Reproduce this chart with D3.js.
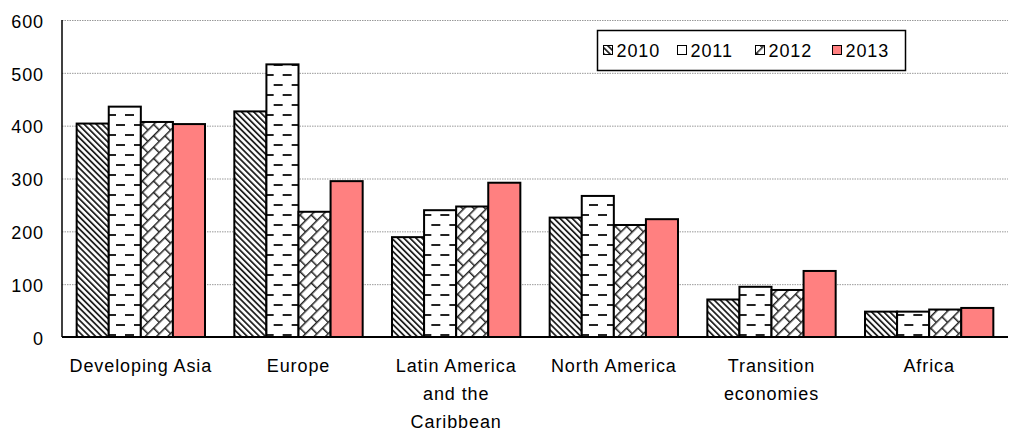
<!DOCTYPE html>
<html>
<head>
<meta charset="utf-8">
<script src="https://cdn.jsdelivr.net/npm/d3@7"></script>
<style>
  html, body { margin: 0; padding: 0; background: #fff; }
  svg { display: block; }
  text { font-family: "Liberation Sans", Arial, sans-serif; font-size: 18px; letter-spacing: 0.9px; fill: #000; }
</style>
</head>
<body>
<svg id="chart" width="1010" height="432"></svg>
<script>
// Regions (multi-line labels split into lines)
const categories = ["Developing Asia", "Europe", "Latin America and the Caribbean", "North America", "Transition economies", "Africa"];
const categoryLines = [["Developing Asia"], ["Europe"], ["Latin America", "and the", "Caribbean"], ["North America"], ["Transition", "economies"], ["Africa"]];
const years = ["2010", "2011", "2012", "2013"];
const values2010 = [404, 427, 189, 226, 71, 48];
const values2011 = [436, 516, 240, 267, 95, 48];
const values2012 = [407, 237, 247, 212, 89, 52];
const values2013 = [403, 295, 292, 223, 125, 55];
const yTicks = [0, 100, 200, 300, 400, 500, 600];

const seriesValues = [values2010, values2011, values2012, values2013];

const svg = d3.select("#chart");
const plot = { left: 62, right: 1008, top: 20, bottom: 337 };

// Fill patterns for each year
const defs = svg.append("defs");

const p0 = defs.append("pattern").attr("id", "fill2010")
  .attr("patternUnits", "userSpaceOnUse").attr("width", 4.3).attr("height", 10)
  .attr("patternTransform", "rotate(-45)");
p0.append("rect").attr("width", 4.3).attr("height", 10).attr("fill", "#fff");
p0.append("rect").attr("x", 0).attr("width", 1.8).attr("height", 10).attr("fill", "#222");

const p1 = defs.append("pattern").attr("id", "fill2011")
  .attr("patternUnits", "userSpaceOnUse").attr("width", 18).attr("height", 20);
p1.append("rect").attr("width", 18).attr("height", 20).attr("fill", "#fff");
p1.append("rect").attr("x", 0).attr("y", 4).attr("width", 9).attr("height", 2).attr("fill", "#222");
p1.append("rect").attr("x", 9).attr("y", 14).attr("width", 9).attr("height", 2).attr("fill", "#222");

const p2 = defs.append("pattern").attr("id", "fill2012")
  .attr("patternUnits", "userSpaceOnUse").attr("width", 16).attr("height", 16)
  .attr("patternTransform", "rotate(-45)");
p2.append("rect").attr("width", 16).attr("height", 16).attr("fill", "#fff");
p2.append("rect").attr("x", 0).attr("y", 0).attr("width", 16).attr("height", 1.5).attr("fill", "#222");
p2.append("rect").attr("x", 0).attr("y", 8).attr("width", 16).attr("height", 1.5).attr("fill", "#222");
p2.append("rect").attr("x", 0).attr("y", 0).attr("width", 1.5).attr("height", 8).attr("fill", "#222");
p2.append("rect").attr("x", 8).attr("y", 8).attr("width", 1.5).attr("height", 8).attr("fill", "#222");

const fills = ["url(#fill2010)", "url(#fill2011)", "url(#fill2012)", "#FF8080"];

// Scales
const y = d3.scaleLinear().domain([0, 600]).range([plot.bottom, plot.top]);
const x0 = d3.scaleBand().domain(categories).range([plot.left, plot.right]).padding(0);
const inset = x0.bandwidth() * 0.093;
const x1 = d3.scaleBand().domain(years).range([inset, x0.bandwidth() - inset]).padding(0);

// Dotted gridlines
svg.append("g").selectAll("line").data(yTicks.filter(d => d > 0)).join("line")
  .attr("x1", plot.left).attr("x2", plot.right)
  .attr("y1", d => y(d) + 0.5).attr("y2", d => y(d) + 0.5)
  .attr("stroke", "#999").attr("stroke-width", 1).attr("stroke-dasharray", "1.5,1");

// Y axis labels
const yAxis = d3.axisLeft(y).tickValues(yTicks).tickSize(0).tickPadding(18);
const gy = svg.append("g").attr("transform", `translate(${plot.left},0)`).call(yAxis);
gy.select(".domain").remove();
gy.selectAll("text").attr("font-size", null).attr("font-family", null).attr("dy", "0.4em");

// Bars
const groups = svg.append("g").selectAll("g").data(categories).join("g")
  .attr("transform", d => `translate(${x0(d)},0)`);
groups.selectAll("rect")
  .data((c, i) => years.map((yr, k) => ({ yr, k, v: seriesValues[k][i] })))
  .join("rect")
  .attr("x", d => x1(d.yr))
  .attr("y", d => y(d.v))
  .attr("width", x1.bandwidth())
  .attr("height", d => y(0) - y(d.v))
  .attr("fill", d => fills[d.k])
  .attr("stroke", "#000").attr("stroke-width", 2);

// Axis lines
svg.append("line").attr("x1", plot.left).attr("x2", plot.left)
  .attr("y1", plot.top).attr("y2", plot.bottom)
  .attr("stroke", "#000").attr("stroke-width", 1.5);
svg.append("line").attr("x1", plot.left).attr("x2", plot.right)
  .attr("y1", plot.bottom).attr("y2", plot.bottom)
  .attr("stroke", "#000").attr("stroke-width", 2);

// Category labels
const labels = svg.append("g").selectAll("text").data(categories).join("text")
  .attr("text-anchor", "middle")
  .attr("transform", d => `translate(${x0(d) + x0.bandwidth() / 2},372)`);
labels.selectAll("tspan").data((d, i) => categoryLines[i]).join("tspan")
  .attr("x", 0).attr("y", (d, j) => j * 28).text(d => d);

// Legend
const legend = svg.append("g").attr("transform", "translate(597.5,30.5)");
legend.append("rect").attr("width", 308).attr("height", 40)
  .attr("fill", "#fff").attr("stroke", "#000").attr("stroke-width", 1.5);
const legendX = [6, 80, 158, 235];
const items = legend.selectAll("g.item").data(years).join("g").attr("class", "item")
  .attr("transform", (d, i) => `translate(${legendX[i]},0)`);
items.append("rect").attr("x", 0).attr("y", 15).attr("width", 9).attr("height", 9)
  .attr("fill", (d, i) => fills[i]).attr("stroke", "#000").attr("stroke-width", 1);
items.append("text").attr("x", 13).attr("y", 26).text(d => d);
</script>
</body>
</html>
